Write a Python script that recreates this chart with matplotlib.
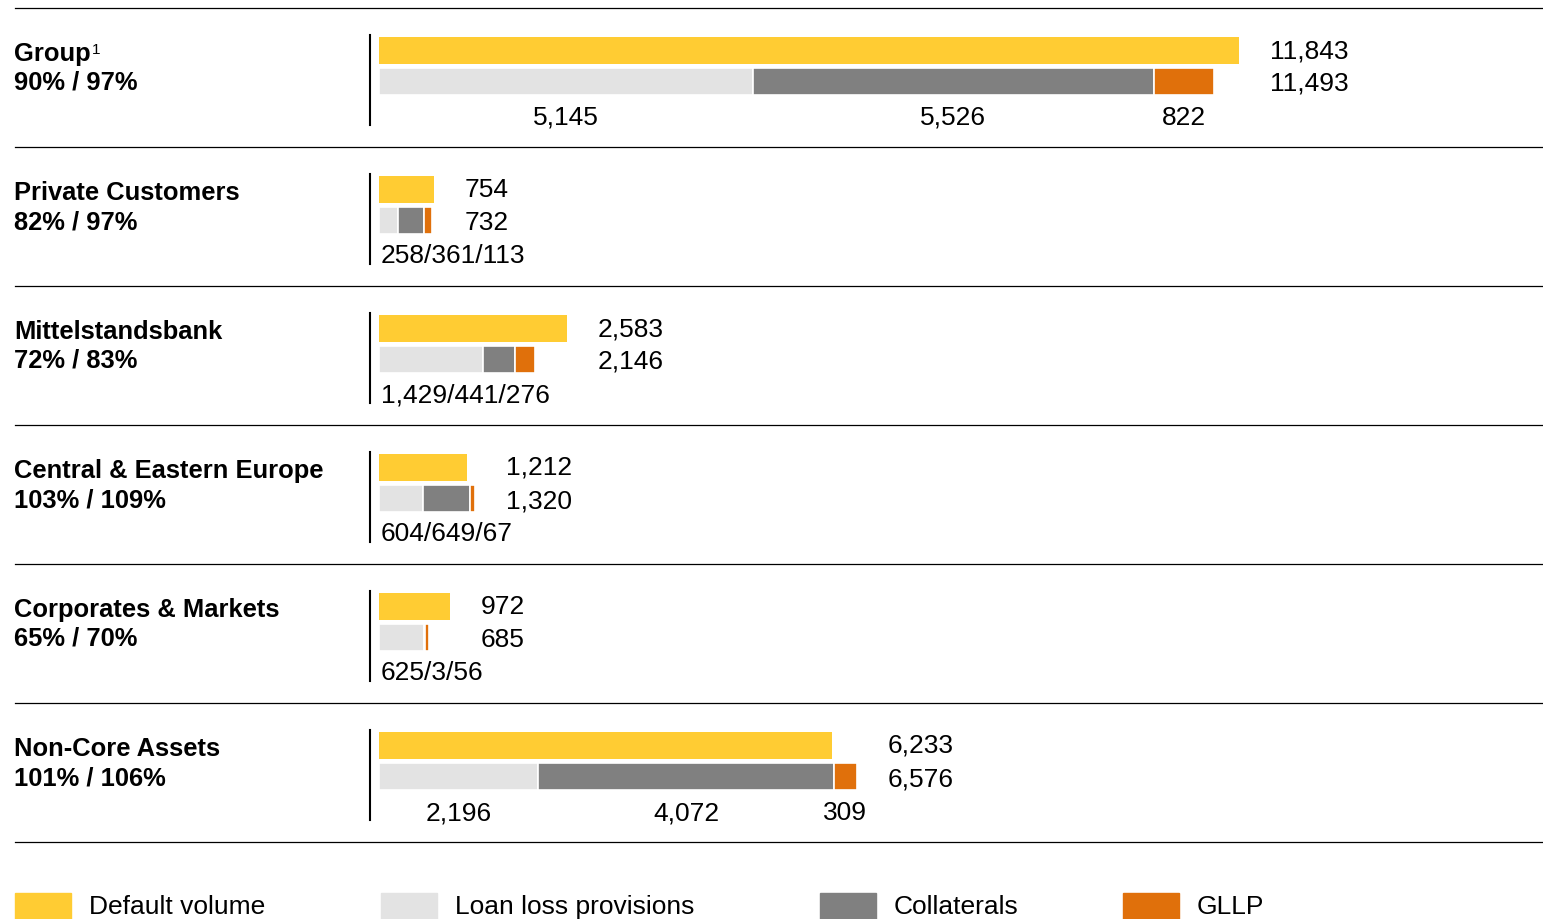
import numpy as np
import matplotlib
matplotlib.use("Agg")
from matplotlib import pyplot as plt
from matplotlib.transforms import Affine2D
from matplotlib.patches import Rectangle

plt.rcParams['font.family'] = ['Liberation Sans', 'DejaVu Sans']

# data (EUR m)
segments = ["Group", "Private Customers", "Mittelstandsbank",
            "Central & Eastern Europe", "Corporates & Markets", "Non-Core Assets"]
footnotes = ["1", "", "", "", "", ""]
coverage = ["90% / 97%", "82% / 97%", "72% / 83%",
            "103% / 109%", "65% / 70%", "101% / 106%"]
default_volume = np.array([11843, 754, 2583, 1212, 972, 6233])
loan_loss_prov = np.array([5145, 258, 1429, 604, 625, 2196])
collaterals = np.array([5526, 361, 441, 649, 3, 4072])
gllp = np.array([822, 113, 276, 67, 56, 309])
totals = np.array([11493, 732, 2146, 1320, 685, 6576])
split_labels = [True, False, False, False, False, True]

legend_names = ["Default volume", "Loan loss provisions", "Collaterals", "GLLP"]

YELLOW = "#FFCC33"
LIGHT = "#E3E3E3"
GREY = "#808080"
ORANGE = "#E0700B"
colors = [YELLOW, LIGHT, GREY, ORANGE]

W, H = 1543, 919
fig = plt.figure(figsize=(W / 100, H / 100), dpi=100)
ax = fig.add_axes([0, 0, 1, 1])

# pixel -> figure transform (y downwards) for layout elements
pix = Affine2D().scale(1 / W, -1 / H).translate(0, 1) + fig.transFigure

scale = 860 / 11843  # px per unit
x0 = 379
ax.set_xlim(-x0 / scale, (W - x0) / scale)
ax.set_ylim(H, 0)
ax.axis('off')

row_h = 139
tops = 8 + row_h * np.arange(len(segments))
y_def = tops + 42
y_tot = tops + 73
bh = 27

# bars
ax.barh(y_def, default_volume, height=bh, color=YELLOW, linewidth=0)
ax.barh(y_tot, loan_loss_prov, height=bh, color=LIGHT, edgecolor='white', linewidth=1.2)
ax.barh(y_tot, collaterals, left=loan_loss_prov, height=bh, color=GREY,
        edgecolor='white', linewidth=1.2)
ax.barh(y_tot, gllp, left=loan_loss_prov + collaterals, height=bh, color=ORANGE,
        edgecolor='white', linewidth=1.2)

for i, name in enumerate(segments):
    top = tops[i]
    # separator line + vertical axis line
    ax.plot([15, W], [top, top], color='black', lw=0.9, transform=pix)
    ax.plot([370, 370], [top + 27, top + 117], color='black', lw=1.5, transform=pix)

    # left labels
    t = ax.text(14, top + 46, name, transform=pix, fontsize=18.4, fontweight='bold',
                va='center', ha='left')
    if footnotes[i]:
        ax.annotate(footnotes[i], xy=(1, 1), xycoords=t, xytext=(1, -1),
                    textcoords='offset points', fontsize=11, va='top', ha='left')
    ax.text(14, top + 75, coverage[i], transform=pix, fontsize=18.4,
            fontweight='bold', va='center', ha='left')

    # value labels
    xv = max(default_volume[i], totals[i]) + 31 / scale
    ax.text(xv, y_def[i] + 1, f"{default_volume[i]:,}", fontsize=19, va='center', ha='left')
    ax.text(xv, y_tot[i] + 3, f"{totals[i]:,}", fontsize=19, va='center', ha='left')

    # component labels
    parts = [loan_loss_prov[i], collaterals[i], gllp[i]]
    if split_labels[i]:
        left = 0
        for v in parts:
            ax.text(left + v / 2, top + 110, f"{v:,}", fontsize=19, va='center', ha='center')
            left += v
    else:
        ax.text(2 / scale, top + 109, "/".join(f"{v:,}" for v in parts),
                fontsize=19, va='center', ha='left')

# closing line
ax.plot([15, W], [tops[-1] + row_h, tops[-1] + row_h], color='black', lw=0.9, transform=pix)

# legend
legend_x = [15, 381, 820, 1123]
for xl, name, c in zip(legend_x, legend_names, colors):
    ax.add_patch(Rectangle((xl, 893), 56, 27, color=c, transform=pix, clip_on=False))
    ax.text(xl + 74, 907, name, transform=pix, fontsize=19, va='center', ha='left')

fig.savefig("out.png", dpi=100)
